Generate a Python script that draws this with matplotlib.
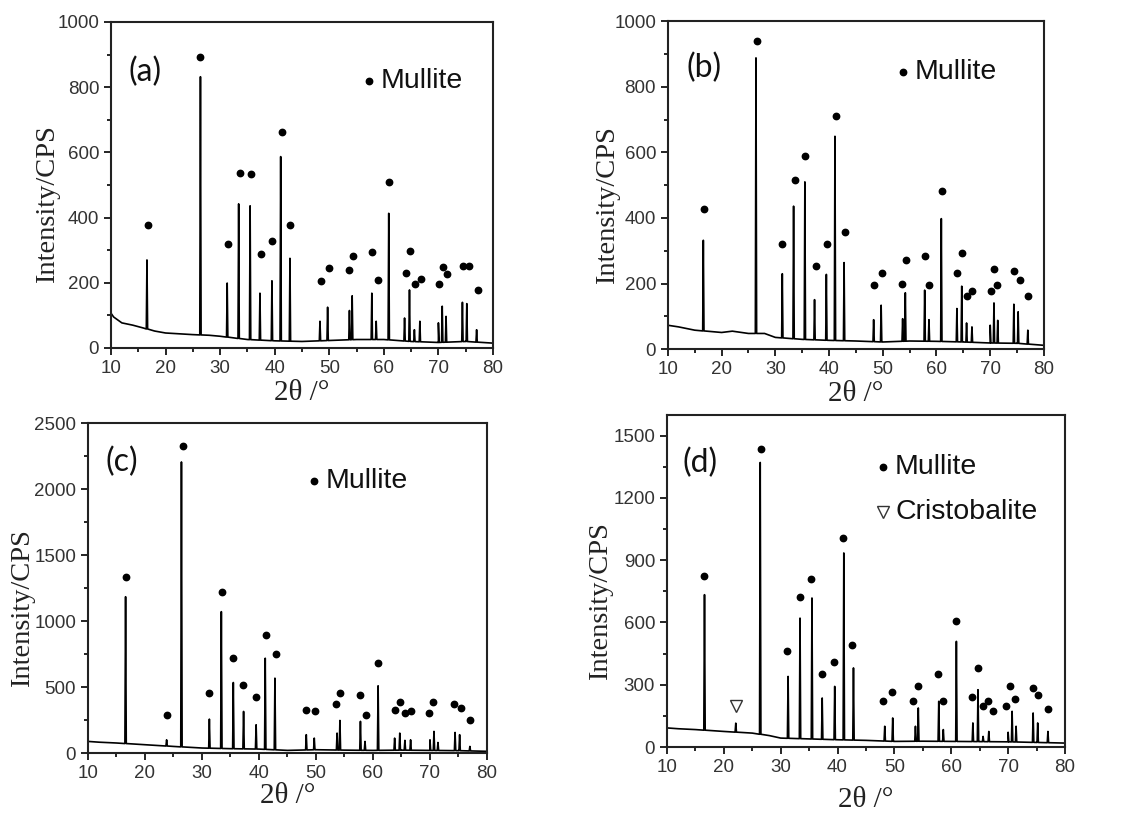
import numpy as np
import matplotlib
matplotlib.use("Agg")
import matplotlib.pyplot as plt
from matplotlib.ticker import MultipleLocator

# mullite reflections, shared by all four patterns (2theta, degrees)
peak_pos = [16.6, 26.4, 31.3, 33.4, 35.5, 37.3, 39.5, 41.1, 42.8, 48.3, 49.7,
            53.7, 54.2, 57.8, 58.6, 60.9, 63.8, 64.7, 65.6, 66.6, 70.0, 70.7,
            71.4, 74.4, 75.2, 77.0]

# peak tops (CPS)
height_a = [270, 832, 199, 442, 436, 168, 206, 587, 275, 82, 125, 115, 160,
            168, 82, 413, 92, 178, 56, 82, 77, 128, 97, 140, 136, 56]
height_b = [332, 888, 230, 436, 510, 151, 228, 649, 264, 90, 134, 93, 172,
            180, 90, 398, 124, 192, 80, 68, 73, 141, 88, 137, 114, 58]
height_c = [1184, 2205, 257, 1071, 534, 315, 214, 718, 567, 139, 113, 151, 247,
            240, 88, 509, 113, 151, 96, 100, 100, 164, 80, 156, 139, 50]
height_d = [734, 1371, 340, 621, 718, 236, 292, 935, 381, 100, 140, 100, 188,
            220, 84, 509, 116, 276, 51, 75, 71, 172, 100, 164, 116, 75]

# extra small peaks
extra_pos_c = [23.8]
extra_height_c = [100]
extra_pos_d = [22.1]           # cristobalite
extra_height_d = [115]

# background level
bg_x_a = [10, 10.5, 12, 14, 16, 18, 20, 23, 25, 28, 30, 35, 40, 45, 50, 55, 60, 65, 70, 75, 79.9]
bg_y_a = [107, 95, 77, 70, 61, 52, 46, 43, 41, 39, 36, 26, 22, 20, 23, 26, 26, 20, 17, 20, 15]
bg_x_b = [10, 12, 15, 20, 22, 25, 28, 30, 35, 40, 45, 50, 55, 60, 65, 70, 75, 79.9]
bg_y_b = [73, 68, 58, 51, 55, 48, 48, 36, 30, 27, 25, 22, 25, 24, 22, 19, 18, 12]
bg_x_c = [10, 12, 15, 20, 25, 30, 35, 40, 45, 50, 55, 60, 65, 70, 75, 79.9]
bg_y_c = [88, 82, 76, 63, 50, 38, 33, 30, 20, 25, 22, 20, 22, 20, 18, 13]
bg_x_d = [10, 12, 15, 20, 25, 28, 30, 35, 40, 45, 50, 55, 60, 65, 70, 75, 79.9]
bg_y_d = [92, 88, 84, 75, 67, 55, 43, 39, 35, 32, 27, 28, 27, 26, 25, 22, 19]

# phase markers (dots above the peaks)
dot_x_a = [16.7, 26.4, 31.5, 33.6, 35.6, 37.5, 39.6, 41.3, 42.9, 48.4, 49.9, 53.6,
           54.4, 57.9, 58.9, 61.0, 64.0, 64.8, 65.7, 66.8, 70.1, 70.8, 71.6, 74.5,
           75.6, 77.2]
dot_y_a = [378, 893, 318, 536, 533, 289, 329, 663, 378, 204, 244, 238, 281, 294,
           209, 510, 230, 298, 196, 212, 196, 247, 227, 253, 253, 179]
dot_x_b = [16.76, 26.55, 31.2, 33.7, 35.5, 37.5, 39.6, 41.25, 43.0, 48.4, 49.8,
           53.5, 54.3, 57.9, 58.6, 61.0, 63.8, 64.8, 65.75, 66.7, 70.1, 70.7, 71.2,
           74.4, 75.5, 77.1]
dot_y_b = [428, 941, 322, 515, 588, 255, 322, 711, 357, 195, 232, 200, 271, 284,
           195, 481, 232, 293, 161, 178, 178, 246, 195, 239, 212, 161]
dot_x_c = [16.6, 23.8, 26.6, 31.2, 33.55, 35.5, 37.2, 39.5, 41.2, 43.0, 48.2, 49.8,
           53.5, 54.2, 57.7, 58.7, 60.85, 63.9, 64.8, 65.65, 66.65, 69.75, 70.6,
           74.3, 75.45, 77.0]
dot_y_c = [1336, 290, 2326, 454, 1222, 723, 512, 421, 892, 751, 328, 320, 370,
           454, 441, 290, 680, 328, 383, 302, 315, 302, 383, 373, 340, 252]
dot_x_d = [16.5, 26.6, 31.1, 33.4, 35.4, 37.3, 39.3, 40.9, 42.6, 48.0, 49.5, 53.3,
           54.1, 57.6, 58.6, 60.8, 63.6, 64.75, 65.6, 66.5, 67.4, 69.7, 70.4, 71.2,
           74.3, 75.2, 77.0]
dot_y_d = [822, 1436, 461, 723, 809, 353, 408, 1007, 490, 223, 265, 223, 292, 353,
           220, 605, 239, 381, 199, 220, 172, 196, 292, 231, 283, 252, 183]
tri_x_d = [22.2]
tri_y_d = [196]

TICK_FONT = "Liberation Sans"
LABEL_FONT = "Liberation Serif"


def build_trace(bg_x, bg_y, pos, height, half=0.12):
    """Join background knots and narrow triangular peaks into one line."""
    xs = list(bg_x)
    ys = list(bg_y)
    for p, h in zip(pos, height):
        foot = float(np.interp(p, bg_x, bg_y))
        xs += [p - half, p, p + half]
        ys += [foot, h, foot]
    order = np.argsort(xs, kind="stable")
    return np.array(xs)[order], np.array(ys)[order]


def draw_panel(ax, tag, trace, dots, ylim, ystep, tag_xy, leg_xy, xlab_y,
               ylab_x, tri=None):
    x, y = trace
    ax.plot(x, y, color="black", lw=1.2)
    ax.plot(dots[0], dots[1], "o", color="black", ms=4.6, mec="black")
    if tri is not None:
        ax.plot(tri[0], tri[1], "v", mfc="white", mec="#333333", ms=9, mew=1.0)

    ax.set_xlim(10, 80)
    ax.set_ylim(*ylim)
    ax.xaxis.set_major_locator(MultipleLocator(10))
    ax.xaxis.set_minor_locator(MultipleLocator(5))
    ax.yaxis.set_major_locator(MultipleLocator(ystep))
    ax.yaxis.set_minor_locator(MultipleLocator(ystep / 2))
    ax.tick_params(which="both", direction="out", top=False, right=False,
                   width=1.2, colors="black", labelcolor="#333333")
    ax.tick_params(which="major", length=5, labelsize=13.5)
    ax.tick_params(which="minor", length=3)
    for lab in ax.get_xticklabels() + ax.get_yticklabels():
        lab.set_fontfamily(TICK_FONT)
    for sp in ax.spines.values():
        sp.set_linewidth(1.5)
        sp.set_color("#222222")

    # ylabel anchor is the right edge of the rotated text
    ax.set_ylabel("Intensity/CPS", fontfamily=LABEL_FONT, fontsize=20.5,
                  color="#222222")
    ax.yaxis.set_label_coords(ylab_x, 0.44)
    ax.set_xlabel("2θ /°", fontfamily=LABEL_FONT, fontsize=21, color="#222222")
    ax.xaxis.set_label_coords(0.5, xlab_y)

    ax.text(tag_xy[0], tag_xy[1], tag, transform=ax.transAxes, fontsize=23,
            fontfamily="Lato", va="center", ha="left", color="#111111")

    # legend text
    ax.plot([leg_xy[0]], [leg_xy[1]], "o", color="black", ms=4.6,
            transform=ax.transAxes)
    ax.text(leg_xy[0] + 0.03, leg_xy[1], "Mullite", transform=ax.transAxes,
            fontsize=20.5, fontfamily=TICK_FONT, va="center", ha="left",
            color="#111111")
    if tri is not None:
        ax.plot([leg_xy[0]], [leg_xy[1] - 0.135], "v", mfc="white",
                mec="#333333", ms=8, mew=1.0, transform=ax.transAxes)
        ax.text(leg_xy[0] + 0.03, leg_xy[1] - 0.135, "Cristobalite",
                transform=ax.transAxes, fontsize=20.5, fontfamily=TICK_FONT,
                va="center", ha="left", color="#111111")


def main() -> None:
    fig = plt.figure(figsize=(11.32, 8.14), dpi=100)

    ax_a = fig.add_axes([0.098, 0.5725, 0.3375, 0.4005])
    ax_b = fig.add_axes([0.590, 0.571, 0.3322, 0.403])
    ax_c = fig.add_axes([0.0777, 0.0749, 0.3525, 0.4054])
    ax_d = fig.add_axes([0.5892, 0.0823, 0.3516, 0.4079])

    draw_panel(ax_a, "(a)", build_trace(bg_x_a, bg_y_a, peak_pos, height_a),
               (dot_x_a, dot_y_a), (0, 1000), 200, (0.045, 0.847),
               (0.675, 0.819), -0.098, -0.134)
    draw_panel(ax_b, "(b)", build_trace(bg_x_b, bg_y_b, peak_pos, height_b),
               (dot_x_b, dot_y_b), (0, 1000), 200, (0.05, 0.857),
               (0.625, 0.845), -0.098, -0.128)
    draw_panel(ax_c, "(c)",
               build_trace(bg_x_c, bg_y_c, peak_pos + extra_pos_c,
                           height_c + extra_height_c),
               (dot_x_c, dot_y_c), (0, 2500), 500, (0.043, 0.882),
               (0.566, 0.824), -0.09, -0.133)
    draw_panel(ax_d, "(d)",
               build_trace(bg_x_d, bg_y_d, peak_pos + extra_pos_d,
                           height_d + extra_height_d),
               (dot_x_d, dot_y_d), (0, 1600), 300, (0.038, 0.855),
               (0.543, 0.843), -0.12, -0.136, tri=(tri_x_d, tri_y_d))

    fig.savefig("out.png", dpi=100)


if __name__ == "__main__":
    main()
